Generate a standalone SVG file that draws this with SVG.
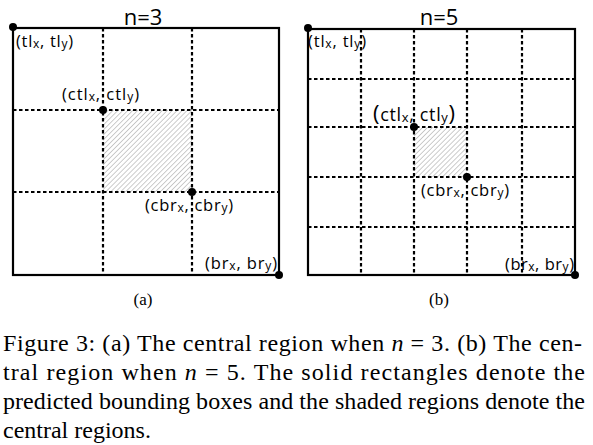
<svg xmlns="http://www.w3.org/2000/svg" width="593" height="445" viewBox="0 0 593 445">
<style>
.frame{fill:none;stroke:#000;stroke-width:2.2}
.dash{stroke:#000;stroke-width:2.2;stroke-dasharray:3.5 2.5;fill:none}
.dot{fill:#000}
.lbl{font-family:"Open Sans","Liberation Sans",sans-serif;font-size:16.5px;fill:#000}
.sub{font-size:12px}
.title{font-family:"Open Sans","Liberation Sans",sans-serif;font-size:22px;fill:#000;text-anchor:middle}
.cap{font-family:"Liberation Serif","Times New Roman",serif;font-size:24px;fill:#000}
.sublbl{font-family:"Liberation Serif","Times New Roman",serif;font-size:17px;fill:#000;text-anchor:middle}
.hatch{fill:url(#hatch)}
</style>
<defs>
<pattern id="hatch" patternUnits="userSpaceOnUse" width="3.5" height="3.5" patternTransform="rotate(45)">
<rect width="3.5" height="3.5" fill="#fff"/>
<line x1="0" y1="0" x2="0" y2="3.5" stroke="#9a9a9a" stroke-width="1"/>
</pattern>
</defs>

<g id="panel-a">
<text class="title" x="143" y="25">n=3</text>
<rect class="hatch" x="103" y="110" width="89" height="82"/>
<g id="grid-a">
<line class="dash" x1="103" y1="28" x2="103" y2="275"/>
<line class="dash" x1="192" y1="28" x2="192" y2="275"/>
<line class="dash" x1="13" y1="110" x2="279" y2="110"/>
<line class="dash" x1="13" y1="192" x2="279" y2="192"/>
</g>
<rect class="frame" x="13" y="28" width="266" height="247"/>
<circle class="dot" cx="13" cy="27" r="4"/>
<circle class="dot" cx="103" cy="110" r="4"/>
<circle class="dot" cx="192" cy="192" r="4"/>
<circle class="dot" cx="279" cy="275" r="4"/>
<text class="lbl" x="16" y="47" textLength="57">(tl<tspan class="sub" dy="1">x</tspan><tspan dy="-1">, tl</tspan><tspan class="sub" dy="1">y</tspan><tspan dy="-1">)</tspan></text>
<text class="lbl" x="62" y="100" textLength="77">(ctl<tspan class="sub" dy="1">x</tspan><tspan dy="-1">, ctl</tspan><tspan class="sub" dy="1">y</tspan><tspan dy="-1">)</tspan></text>
<text class="lbl" x="145" y="211" textLength="88">(cbr<tspan class="sub" dy="1">x</tspan><tspan dy="-1">, cbr</tspan><tspan class="sub" dy="1">y</tspan><tspan dy="-1">)</tspan></text>
<text class="lbl" x="205" y="269" textLength="72">(br<tspan class="sub" dy="1">x</tspan><tspan dy="-1">, br</tspan><tspan class="sub" dy="1">y</tspan><tspan dy="-1">)</tspan></text>
<text class="sublbl" x="143" y="305">(a)</text>
</g>

<g id="panel-b">
<text class="title" x="439" y="25">n=5</text>
<rect class="hatch" x="414" y="127" width="53" height="50"/>
<g id="grid-b">
<line class="dash" x1="361" y1="29" x2="361" y2="275"/>
<line class="dash" x1="414" y1="29" x2="414" y2="275"/>
<line class="dash" x1="467" y1="29" x2="467" y2="275"/>
<line class="dash" x1="522" y1="29" x2="522" y2="275"/>
<line class="dash" x1="308" y1="79" x2="575" y2="79"/>
<line class="dash" x1="308" y1="127" x2="575" y2="127"/>
<line class="dash" x1="308" y1="177" x2="575" y2="177"/>
<line class="dash" x1="308" y1="227" x2="575" y2="227"/>
</g>
<rect class="frame" x="308" y="29" width="267" height="246"/>
<circle class="dot" cx="308" cy="28" r="4"/>
<circle class="dot" cx="414" cy="127" r="4"/>
<circle class="dot" cx="467" cy="177" r="4"/>
<circle class="dot" cx="575" cy="275" r="4"/>
<text class="lbl" x="308" y="47" textLength="58">(tl<tspan class="sub" dy="1">x</tspan><tspan dy="-1">, tl</tspan><tspan class="sub" dy="1">y</tspan><tspan dy="-1">)</tspan></text>
<text class="lbl" x="373" y="121" textLength="82" style="font-size:18px"><tspan style="font-size:22px">(</tspan>ctl<tspan class="sub" dy="1" style="font-size:13px">x</tspan><tspan dy="-1">, ctl</tspan><tspan class="sub" dy="1" style="font-size:13px">y</tspan><tspan dy="-1" style="font-size:22px">)</tspan></text>
<text class="lbl" x="421" y="196" textLength="88">(cbr<tspan class="sub" dy="1">x</tspan><tspan dy="-1">, cbr</tspan><tspan class="sub" dy="1">y</tspan><tspan dy="-1">)</tspan></text>
<text class="lbl" x="505" y="270" textLength="69">(br<tspan class="sub" dy="1">x</tspan><tspan dy="-1">, br</tspan><tspan class="sub" dy="1">y</tspan><tspan dy="-1">)</tspan></text>
<text class="sublbl" x="439" y="305">(b)</text>
</g>

<g id="caption">
<text class="cap" x="3" y="351" textLength="579">Figure 3: (a) The central region when <tspan font-style="italic">n</tspan> = 3. (b) The cen-</text>
<text class="cap" x="3" y="380" textLength="582">tral region when <tspan font-style="italic">n</tspan> = 5.  The solid rectangles denote the</text>
<text class="cap" x="3" y="409" textLength="582">predicted bounding boxes and the shaded regions denote the</text>
<text class="cap" x="3" y="438">central regions.</text>
</g>
</svg>
